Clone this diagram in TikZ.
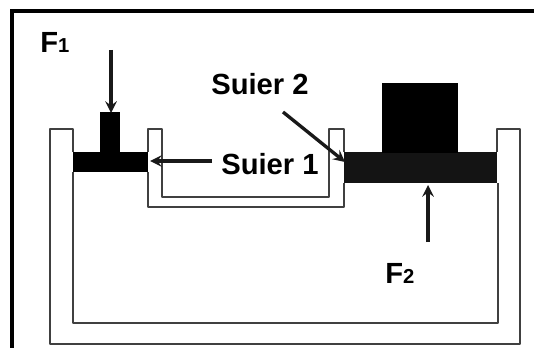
\documentclass[tikz,border=0pt]{standalone}
\usepackage{fontspec}
\setmainfont{Liberation Sans}
\tikzset{
  wall/.style={draw=black!75,line width=1.5pt,line join=round},
  label/.style={font=\fontsize{16.6}{20}\selectfont\bfseries,inner sep=0pt},
  force/.style={-stealth,line width=1.9pt,black!90}
}
\newcommand{\subnum}[1]{{\fontsize{11.5}{12}\selectfont #1}}
\begin{document}
\begin{tikzpicture}[x=0.02cm,y=-0.02cm]
\useasboundingbox (0,0) rectangle (534,348);
\coordinate (F1start) at (111,50);
\coordinate (F1end) at (111,113);
\coordinate (F2start) at (428,242);
\coordinate (F2end) at (428,185);
\coordinate (S1start) at (212,161);
\coordinate (S1end) at (150,161);
\coordinate (S2start) at (283,112);
\coordinate (S2end) at (345,162);
% frame
\draw[line width=2.6pt] (12,348) -- (12,11) -- (534,11);
% outer vessel
\draw[wall] (73,152) -- (73,129) -- (50,129) -- (50,344) -- (520,344) -- (520,129) -- (497,129) -- (497,152);
\draw[wall] (73,172) -- (73,323) -- (498,323) -- (498,183);
% connecting tube
\draw[wall] (148,152) -- (148,129) -- (162,129) -- (162,197) -- (329,197) -- (329,129) -- (344,129) -- (344,152);
\draw[wall] (148,172) -- (148,207) -- (344,207) -- (344,183);
% pistons
\fill (73,152) rectangle (148,172);
\fill (100,112) rectangle (120,152);
\fill[black!92] (344,152) rectangle (497,183);
\fill (382,83) rectangle (458,153);
% forces
\draw[force] (F1start) -- (F1end);
\draw[force] (F2start) -- (F2end);
\draw[force] (S1start) -- (S1end);
\draw[force] (S2start) -- (S2end);
\node[label,anchor=base west] (F1) at (40,53) {F\subnum{1}};
\node[label,anchor=base west] (F2) at (385,283) {F\subnum{2}};
\node[label,anchor=base west] (S1) at (221,174) {Suier 1};
\node[label,anchor=base west] (S2) at (211,94) {Suier 2};
\end{tikzpicture}
\end{document}
